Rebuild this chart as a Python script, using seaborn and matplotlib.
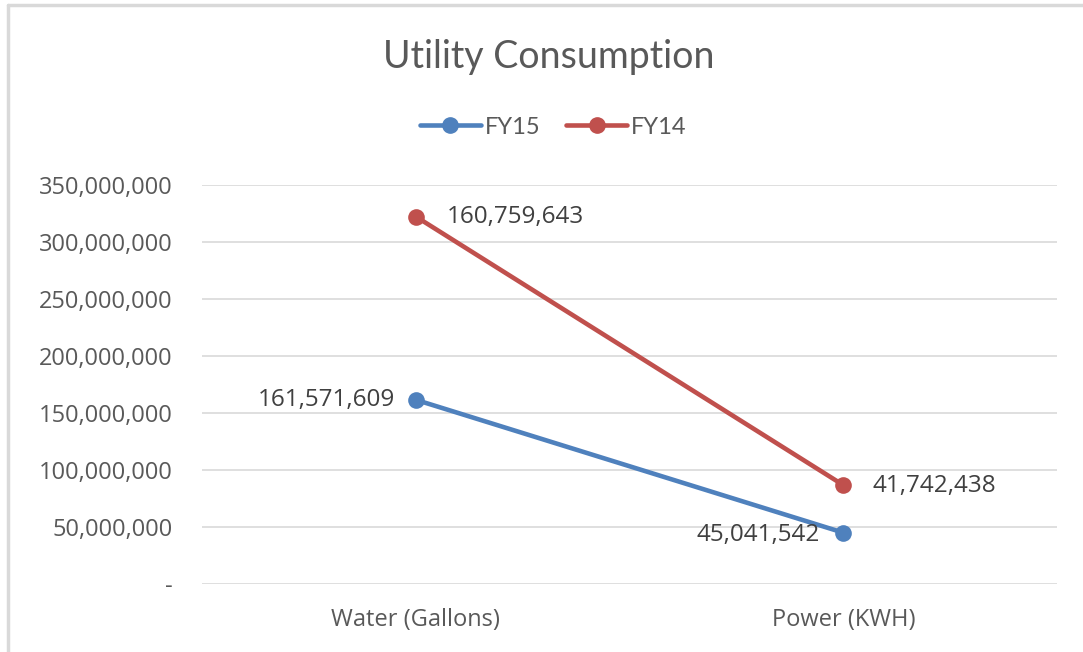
import numpy as np
import pandas as pd
import matplotlib
matplotlib.use("Agg")
import matplotlib.pyplot as plt
from matplotlib.ticker import FuncFormatter, MultipleLocator
from matplotlib.lines import Line2D
import seaborn as sns

categories = ["Water (Gallons)", "Power (KWH)"]
fy15 = [161571609, 45041542]
fy14 = [160759643, 41742438]
series_names = ["FY15", "FY14"]
colors = {"FY15": "#4F81BD", "FY14": "#C0504D"}

# stacked line chart (FY14 stacked on top of FY15)
fy14_stacked = list(np.array(fy15) + np.array(fy14))

df = pd.DataFrame({
    "category": categories * 2,
    "value": fy15 + fy14_stacked,
    "label": fy15 + fy14,
    "series": ["FY15"] * 2 + ["FY14"] * 2,
})

sns.set_theme(style="white")
plt.rcParams["font.family"] = ["Open Sans", "DejaVu Sans"]

fig = plt.figure(figsize=(10.83, 6.52), dpi=100)
ax = fig.add_axes([202 / 1083, 1 - 584 / 652, (1057 - 202) / 1083, (584 - 185) / 652])

sns.lineplot(data=df, x="category", y="value", hue="series", hue_order=series_names,
             palette=colors, marker="o", markersize=12, markeredgewidth=0,
             linewidth=3.3, ax=ax, legend=False, sort=False)

ax.set_xlim(-0.5, 1.5)
ax.set_ylim(0, 350000000)
ax.yaxis.set_major_locator(MultipleLocator(50000000))
ax.yaxis.set_major_formatter(FuncFormatter(lambda v, p: "-" if v == 0 else f"{int(v):,}"))
ax.grid(axis="y", color="#D9D9D9", linewidth=1.2)
ax.set_axisbelow(True)
for s in ax.spines.values():
    s.set_visible(False)
ax.set_xlabel("")
ax.set_ylabel("")
ax.tick_params(axis="y", colors="#595959", labelsize=17, length=0, pad=21)
ax.tick_params(axis="x", colors="#595959", labelsize=17, length=0, pad=17)

# data labels
lab_style = dict(fontsize=17.5, color="#404040", va="center")
ax.annotate(f"{fy15[0]:,}", (0, fy15[0]), xytext=(-15, 0), textcoords="offset points", ha="right", **lab_style)
ax.annotate(f"{fy15[1]:,}", (1, fy15[1]), xytext=(-17, -2), textcoords="offset points", ha="right", **lab_style)
ax.annotate(f"{fy14[0]:,}", (0, fy14_stacked[0]), xytext=(22, 0), textcoords="offset points", ha="left", **lab_style)
ax.annotate(f"{fy14[1]:,}", (1, fy14_stacked[1]), xytext=(21, -1), textcoords="offset points", ha="left", **lab_style)

fig.text(549 / 1083, 1 - 57 / 652, "Utility Consumption", ha="center", va="center",
         fontsize=27, color="#595959", family=["Lato", "DejaVu Sans"])

handles = [Line2D([], [], color=colors[s], linewidth=3.3, marker="o", markersize=11) for s in series_names]
leg = fig.legend(handles, series_names, loc="center", bbox_to_anchor=(553 / 1083, 1 - 127 / 652),
                 ncol=2, frameon=False, handlelength=2.6, columnspacing=1.1, handletextpad=0.15,
                 prop={"family": "Lato", "size": 17})
for t in leg.get_texts():
    t.set_color("#595959")

# outer frame (top and left edges visible)
fig.add_artist(Line2D([8 / 1083, 1], [1 - 5 / 652, 1 - 5 / 652], color="#D9D9D9", linewidth=2.5, transform=fig.transFigure))
fig.add_artist(Line2D([8 / 1083, 8 / 1083], [0, 1 - 5 / 652], color="#D9D9D9", linewidth=2.5, transform=fig.transFigure))

fig.savefig("out.png", dpi=100, facecolor="white")
